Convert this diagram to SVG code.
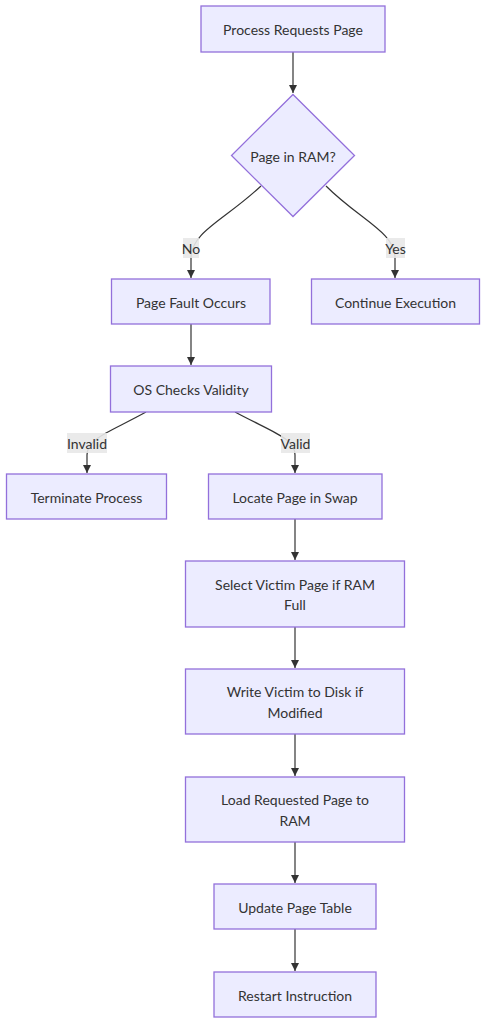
<svg xmlns="http://www.w3.org/2000/svg" width="486" height="1024" viewBox="0 0 486 1024">
<defs>
<style>
.n{fill:#ECECFF;stroke:#9370DB;stroke-width:1.3}
.t{font-family:Lato,"Liberation Sans",sans-serif;font-size:14px;fill:#333;text-anchor:middle;dominant-baseline:central}
.e{fill:none;stroke:#333;stroke-width:1.2}
.lb{fill:#e8e8e8;opacity:0.9}
</style>
<marker id="ah" viewBox="0 0 10 10" refX="10" refY="5" markerWidth="8" markerHeight="8" markerUnits="userSpaceOnUse" orient="auto">
<path d="M0,0 L10,5 L0,10 z" fill="#333"/>
</marker>
</defs>
<rect width="486" height="1024" fill="#fff"/>
<g id="edges">
<path class="e" d="M293,52 L293,93" marker-end="url(#ah)"/>
<path class="e" d="M261,186 C225,220 191,232 191,258 L191,278" marker-end="url(#ah)"/>
<path class="e" d="M326,186 C360,220 395,232 395,258 L395,278" marker-end="url(#ah)"/>
<path class="e" d="M191,324 L191,365" marker-end="url(#ah)"/>
<path class="e" d="M146,412 C110,432 87,438 87,455 L87,473" marker-end="url(#ah)"/>
<path class="e" d="M235,412 C272,432 295,438 295,455 L295,473" marker-end="url(#ah)"/>
<path class="e" d="M295,519 L295,560" marker-end="url(#ah)"/>
<path class="e" d="M295,627 L295,668" marker-end="url(#ah)"/>
<path class="e" d="M295,734 L295,776" marker-end="url(#ah)"/>
<path class="e" d="M295,842 L295,883" marker-end="url(#ah)"/>
<path class="e" d="M295,929 L295,971" marker-end="url(#ah)"/>
</g>
<g id="edge-labels">
<g id="lbl-no"><rect class="lb" x="183" y="238" width="16" height="20"/><text class="t" x="191" y="248.5">No</text></g>
<g id="lbl-yes"><rect class="lb" x="386" y="238" width="19" height="20"/><text class="t" x="395.5" y="248.5">Yes</text></g>
<g id="lbl-invalid"><rect class="lb" x="67" y="433" width="40" height="20"/><text class="t" x="87" y="443.5">Invalid</text></g>
<g id="lbl-valid"><rect class="lb" x="281" y="433" width="29" height="20"/><text class="t" x="295.5" y="443.5">Valid</text></g>
</g>
<g id="A"><rect class="n" x="201" y="6" width="184" height="46"/><text class="t" x="293" y="29.5">Process Requests Page</text></g>
<g id="B"><polygon class="n" points="293,94.5 354.5,155.5 293,216.5 231.5,155.5"/><text class="t" x="293" y="156">Page in RAM?</text></g>
<g id="C"><rect class="n" x="111.5" y="279" width="158.5" height="45"/><text class="t" x="191" y="302">Page Fault Occurs</text></g>
<g id="D"><rect class="n" x="311.5" y="279" width="168" height="45"/><text class="t" x="395.5" y="302">Continue Execution</text></g>
<g id="E"><rect class="n" x="110.5" y="366" width="161" height="46"/><text class="t" x="191" y="389.5">OS Checks Validity</text></g>
<g id="F"><rect class="n" x="6.5" y="474" width="160" height="45"/><text class="t" x="86.5" y="497">Terminate Process</text></g>
<g id="G"><rect class="n" x="208.5" y="474" width="173.5" height="45"/><text class="t" x="295" y="497">Locate Page in Swap</text></g>
<g id="H"><rect class="n" x="185.5" y="561" width="219" height="66"/><text class="t" x="295" y="584.5">Select Victim Page if RAM</text><text class="t" x="295" y="604.5">Full</text></g>
<g id="I"><rect class="n" x="185.5" y="669" width="219" height="65"/><text class="t" x="295" y="691.5">Write Victim to Disk if</text><text class="t" x="295" y="712">Modified</text></g>
<g id="J"><rect class="n" x="185.5" y="777" width="219" height="65"/><text class="t" x="295" y="799.5">Load Requested Page to</text><text class="t" x="295" y="820">RAM</text></g>
<g id="K"><rect class="n" x="214" y="884" width="162" height="45"/><text class="t" x="295" y="907">Update Page Table</text></g>
<g id="L"><rect class="n" x="214" y="972" width="162" height="45"/><text class="t" x="295" y="995">Restart Instruction</text></g>
</svg>
